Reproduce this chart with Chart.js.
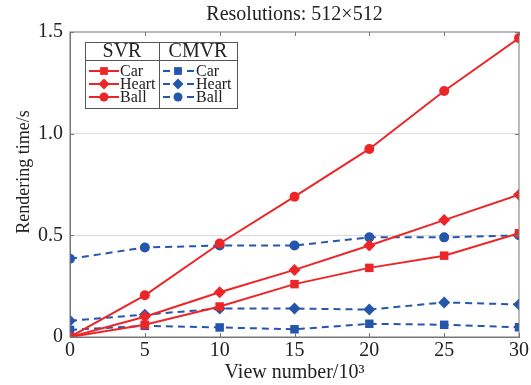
<!DOCTYPE html>
<html>
<head>
<meta charset="utf-8">
<script src="https://cdn.jsdelivr.net/npm/chart.js@4.4.0/dist/chart.umd.min.js"></script>
<style>
  html, body { margin: 0; padding: 0; background: #fff; }
  #wrap { width: 531px; height: 385px; }
</style>
</head>
<body>
<div id="wrap"><canvas id="chart"></canvas></div>
<script>
// view number (x10^3)
const views = [0, 5, 10, 15, 20, 25, 30];

// rendering time, seconds
const svrCar   = [0, 0.06, 0.15, 0.26, 0.34, 0.40, 0.51];
const svrHeart = [0, 0.10, 0.22, 0.33, 0.45, 0.575, 0.70];
const svrBall  = [0, 0.205, 0.46, 0.69, 0.925, 1.21, 1.47];
const cmvrCar   = [0.035, 0.055, 0.047, 0.038, 0.065, 0.06, 0.048];
const cmvrHeart = [0.08, 0.11, 0.14, 0.14, 0.135, 0.17, 0.16];
const cmvrBall  = [0.385, 0.44, 0.45, 0.45, 0.49, 0.49, 0.50];

const yTicks = [0, 0.5, 1.0, 1.5];
const titleText = 'Resolutions: 512×512';
const yTitle = 'Rendering time/s';

const RED = 'rgb(236, 38, 40)';
const BLUE = 'rgb(36, 86, 172)';
const SERIF = '"Liberation Serif", "DejaVu Serif", serif';

function pts(arr) {
    return arr.map((v, i) => ({ x: views[i], y: v }));
}

function series(label, values, color, shape, dashed) {
    const r = shape === 'rect' ? 6 : (shape === 'rectRot' ? 6 : 5);
    return {
        label: label,
        data: pts(values),
        borderColor: color,
        backgroundColor: color,
        borderWidth: 2,
        borderDash: dashed ? [7, 5] : [],
        pointStyle: shape,
        pointRadius: r,
        pointBorderWidth: 0,
        pointBackgroundColor: color,
        fill: false,
        tension: 0
    };
}

// frame, inner ticks, titles and the table-like legend
const decor = {
    id: 'decor',
    afterDraw(chart) {
        const c = chart.ctx;
        const a = chart.chartArea;
        const xs = chart.scales.x, ys = chart.scales.y;
        c.save();
        c.strokeStyle = '#777';
        c.lineWidth = 1;
        c.strokeRect(a.left, a.top, a.right - a.left, a.bottom - a.top);
        // inward tick marks
        c.beginPath();
        views.forEach(v => {
            const px = Math.round(xs.getPixelForValue(v)) + 0.5;
            c.moveTo(px, a.top); c.lineTo(px, a.top + 4);
            c.moveTo(px, a.bottom); c.lineTo(px, a.bottom - 4);
        });
        yTicks.forEach(v => {
            const py = Math.round(ys.getPixelForValue(v)) + 0.5;
            c.moveTo(a.left, py); c.lineTo(a.left + 4, py);
            c.moveTo(a.right, py); c.lineTo(a.right - 4, py);
        });
        c.stroke();

        // chart title
        c.fillStyle = '#222';
        c.font = '20px ' + SERIF;
        c.textAlign = 'center';
        c.textBaseline = 'middle';
        c.fillText(titleText, (a.left + a.right) / 2, 15);

        // y axis title
        c.save();
        c.translate(24, 172);
        c.rotate(-Math.PI / 2);
        c.font = '18px ' + SERIF;
        c.fillText(yTitle, 0, 0);
        c.restore();

        // legend table
        const L = 85, R = 237, T = 42, B = 108, mid = 159, hdr = 60;
        c.fillStyle = '#fff';
        c.fillRect(L, T, R - L, B - T);
        c.strokeStyle = '#555';
        c.strokeRect(L + 0.5, T + 0.5, R - L, B - T);
        c.beginPath();
        c.moveTo(L, hdr + 0.5); c.lineTo(R, hdr + 0.5);
        c.moveTo(mid + 0.5, T); c.lineTo(mid + 0.5, B);
        c.stroke();
        c.fillStyle = '#222';
        c.font = '20px ' + SERIF;
        c.fillText('SVR', 122, 52);
        c.fillText('CMVR', 198, 52);

        const rows = [71, 84, 97];
        const groups = [
            { sets: [0, 1, 2], x0: 89, x1: 119, mx: 104, tx: 120 },
            { sets: [3, 4, 5], x0: 163, x1: 195, mx: 178, tx: 196 }
        ];
        groups.forEach(g => {
            g.sets.forEach((di, k) => {
                const ds = chart.data.datasets[di];
                const y = rows[k];
                c.strokeStyle = ds.borderColor;
                c.lineWidth = 2;
                c.setLineDash(ds.borderDash);
                c.beginPath();
                c.moveTo(g.x0, y); c.lineTo(g.x1, y);
                c.stroke();
                c.setLineDash([]);
                c.fillStyle = ds.borderColor;
                Chart.helpers.drawPoint(c, {
                    pointStyle: ds.pointStyle,
                    radius: ds.pointStyle === 'circle' ? 4.5 : 5.5,
                    rotation: 0,
                    borderWidth: 0
                }, g.mx, y);
                c.fillStyle = '#222';
                c.font = '16px ' + SERIF;
                c.textAlign = 'left';
                c.fillText(ds.label.split(' ')[1], g.tx, y + 1);
            });
        });
        c.restore();
    }
};

const ctx = document.getElementById('chart').getContext('2d');
new Chart(ctx, {
    type: 'line',
    data: {
        datasets: [
            series('SVR Car', svrCar, RED, 'rect', false),
            series('SVR Heart', svrHeart, RED, 'rectRot', false),
            series('SVR Ball', svrBall, RED, 'circle', false),
            series('CMVR Car', cmvrCar, BLUE, 'rect', true),
            series('CMVR Heart', cmvrHeart, BLUE, 'rectRot', true),
            series('CMVR Ball', cmvrBall, BLUE, 'circle', true)
        ]
    },
    options: {
        responsive: true,
        maintainAspectRatio: false,
        animation: false,
        layout: { padding: { top: 32, right: 12, left: 0, bottom: 0 } },
        scales: {
            x: {
                type: 'linear',
                min: 0,
                max: 30,
                afterBuildTicks: s => { s.ticks = views.map(v => ({ value: v })); },
                afterFit: s => { s.height = 48; },
                grid: { display: false, drawTicks: false },
                border: { color: '#777' },
                ticks: {
                    color: '#222',
                    padding: 2,
                    font: { family: SERIF, size: 20 },
                    maxRotation: 0
                },
                title: {
                    display: true,
                    text: 'View number/10³',
                    color: '#222',
                    font: { family: SERIF, size: 20 },
                    padding: { top: 0, bottom: 0 }
                }
            },
            y: {
                min: 0,
                max: 1.5,
                afterBuildTicks: s => { s.ticks = yTicks.map(v => ({ value: v })); },
                afterFit: s => { s.width = 70; },
                grid: {
                    drawTicks: false,
                    color: c => (c.tick.value > 0 && c.tick.value < 1.5) ? '#dcdcdc' : 'rgba(0,0,0,0)'
                },
                border: { color: '#777' },
                ticks: {
                    color: '#222',
                    padding: 7,
                    font: { family: SERIF, size: 20 },
                    callback: v => v === 0 ? '0' : v.toFixed(1)
                },
                title: { display: false }
            }
        },
        plugins: {
            legend: { display: false },
            title: { display: false },
            tooltip: { enabled: false }
        }
    },
    plugins: [decor]
});
</script>
</body>
</html>
